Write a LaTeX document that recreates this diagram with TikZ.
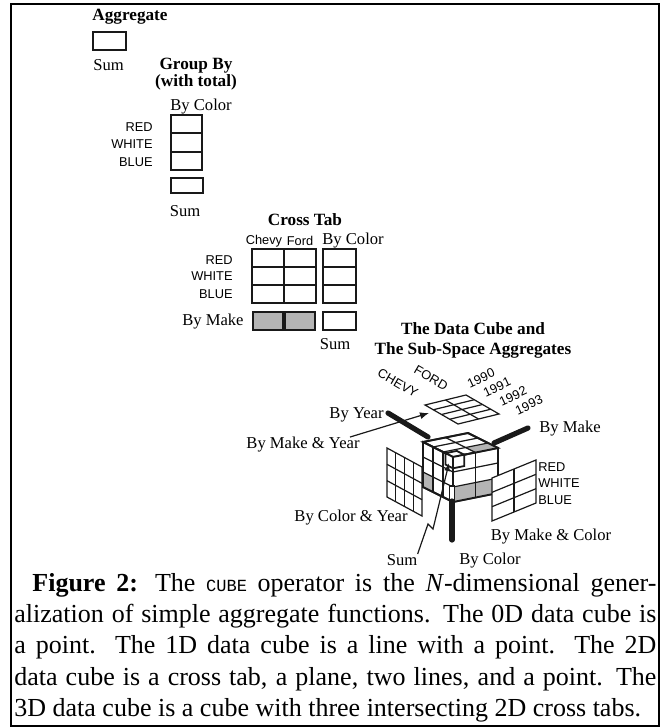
\documentclass[tikz,border=0pt]{standalone}
\usepackage{fontspec}
\setmainfont{Liberation Serif}
\setsansfont{Liberation Sans}
\setmonofont{Liberation Mono}
\usepackage{tikz}
\usetikzlibrary{arrows.meta, positioning, calc}
\definecolor{ink}{RGB}{25,25,25}
\definecolor{stipple}{RGB}{180,180,180}
\newcommand{\cubeop}{{\ttfamily\fontsize{8.5}{8.5}\selectfont CUBE}}

\begin{document}
\begin{tikzpicture}[x=0.5pt, y=-0.5pt,
  title/.style={font=\bfseries\fontsize{8.6}{7.6}\selectfont, inner sep=0pt},
  lbl/.style={font=\fontsize{8.3}{9}\selectfont, inner sep=0pt},
  caps/.style={font=\sffamily\fontsize{6.4}{7}\selectfont, inner sep=0pt},
  cell/.style={draw=ink, line width=0.9pt},
  grid/.style={draw=ink, line width=0.6pt},
  bar/.style={draw=ink, line width=2.6pt, line cap=round}]
  \useasboundingbox (0,0) rectangle (663,728);
  \draw[line width=0.8pt] (11,4) rectangle (659,726);

  % Aggregate
  \node[title] (aggT) at (130,17) {Aggregate};
  \draw[cell] (93,32) rectangle (126,50);
  \node[lbl, anchor=west] (aggSum) at (93,65) {Sum};

  % Group By
  \node[title, align=center] (grpT) at (196,74) {Group By\\(with total)};
  \node[lbl, anchor=west] (grpBy) at (170,107) {By Color};
  \foreach \r in {0,1,2}
    \draw[cell] (171,115+18.3*\r) rectangle ++(31,18.3);
  \foreach \t/\y in {RED/127, WHITE/144, BLUE/162}
    \node[caps, anchor=east] (grp\t) at (153,\y) {\t};
  \draw[cell] (171,178) rectangle (203,193);
  \node[lbl] (grpSum) at (185,211) {Sum};

  % Cross Tab
  \node[title] (xtT) at (305,220) {Cross Tab};
  \node[caps] (xtChevy) at (264,241) {Chevy};
  \node[caps] (xtFord) at (300,241) {Ford};
  \node[lbl, anchor=west] (xtBy) at (322,241) {By Color};
  \foreach \c in {0,1}
    \foreach \r in {0,1,2}
      \draw[cell] (252+32*\c,249+18*\r) rectangle ++(32,18);
  \foreach \r in {0,1,2}
    \draw[cell] (323,249+18*\r) rectangle ++(33,18);
  \foreach \t/\y in {RED/260, WHITE/276, BLUE/294}
    \node[caps, anchor=east] (xt\t) at (233,\y) {\t};
  \foreach \c in {0,1}
    \draw[cell, fill=stipple] (253+32*\c,312) rectangle ++(30,18);
  \node[lbl, anchor=east] (xtMake) at (244,322) {By Make};
  \draw[cell] (323,312) rectangle ++(33,18);
  \node[lbl] (xtSum) at (335,344) {Sum};

  % Data cube
  \node[title, align=center, font=\bfseries\fontsize{8.6}{10}\selectfont] (cubeT) at (473,340)
    {The Data Cube and\\The Sub-Space Aggregates};
  \node[caps, rotate=-30] (axChevy) at (398,383) {CHEVY};
  \node[caps, rotate=-30] (axFord) at (431,378) {FORD};
  \foreach \yr/\x/\y in {1990/481/378, 1991/497/387, 1992/513/396, 1993/529/405}
    \node[caps, rotate=25] (ax\yr) at (\x,\y) {\yr};

  % make & year plane
  \coordinate (pL) at (425,405);
  \coordinate (pT) at (466,395);
  \coordinate (pR) at (499,414);
  \coordinate (pB) at (458,424);
  \draw[grid, fill=white] (pL) -- (pT) -- (pR) -- (pB) -- cycle;
  \foreach \t in {0.25,0.5,0.75}
    \draw[grid] ($(pL)!\t!(pB)$) -- ($(pT)!\t!(pR)$);
  \draw[grid] ($(pL)!0.5!(pT)$) -- ($(pB)!0.5!(pR)$);

  % color & year plane
  \coordinate (lTL) at (387,448);
  \coordinate (lTR) at (422,467);
  \coordinate (lBR) at (422,516);
  \coordinate (lBL) at (387,497);
  \draw[grid, fill=white] (lTL) -- (lTR) -- (lBR) -- (lBL) -- cycle;
  \foreach \t in {0.25,0.5,0.75}
    \draw[grid] ($(lTL)!\t!(lTR)$) -- ($(lBL)!\t!(lBR)$);
  \foreach \t in {0.333,0.667}
    \draw[grid] ($(lTL)!\t!(lBL)$) -- ($(lTR)!\t!(lBR)$);

  % the cube
  \coordinate (cF) at (453,457);
  \coordinate (cL) at (423,442);
  \coordinate (cR) at (498,448);
  \coordinate (cB) at (468,433);
  \coordinate (cFd) at (453,502);
  \coordinate (cLd) at (423,487);
  \coordinate (cRd) at (498,493);
  \draw[cell, fill=white] (cL) -- (cB) -- (cR) -- (cF) -- cycle;
  \draw[cell, fill=white] (cL) -- (cF) -- (cFd) -- (cLd) -- cycle;
  \draw[cell, fill=white] (cF) -- (cR) -- (cRd) -- (cFd) -- cycle;
  \fill[stipple] (465.5,447.5) -- (488,443) -- (cR) -- (475.5,452.5) -- cycle;
  \fill[stipple] (423,472) -- (433,477) -- (433,492) -- (cLd) -- cycle;
  \fill[stipple] (453,487) -- (498,478) -- (cRd) -- (cFd) -- cycle;
  \draw[grid] ($(cL)!0.5!(cB)$) -- ($(cF)!0.5!(cR)$);
  \foreach \t in {0.333,0.667} {
    \draw[grid] ($(cL)!\t!(cF)$) -- ($(cB)!\t!(cR)$);
    \draw[grid] ($(cL)!\t!(cF)$) -- ($(cLd)!\t!(cFd)$);
    \draw[grid] ($(cL)!\t!(cLd)$) -- ($(cF)!\t!(cFd)$);
    \draw[grid] ($(cF)!\t!(cFd)$) -- ($(cR)!\t!(cRd)$);
  }
  \draw[grid] ($(cF)!0.5!(cR)$) -- ($(cFd)!0.5!(cRd)$);
  \draw[cell] (cL) -- (cB) -- (cR) -- (cRd) -- (cFd) -- (cLd) -- cycle;
  \draw[cell] (cL) -- (cF) -- (cR) (cF) -- (cFd);

  % corner cell: the grand total
  \draw[cell, fill=white] (cF) -- ++(-7.5,-3.8) -- ++(11.3,-2.3) -- ++(7.5,3.8) -- cycle;
  \draw[cell, fill=white] (cF) -- ++(-7.5,-3.8) -- ++(0,11.3) -- ++(7.5,3.8) -- cycle;
  \draw[cell, fill=white] (cF) -- ++(11.3,-2.3) -- ++(0,11.3) -- ++(-11.3,2.3) -- cycle;

  % make & color plane
  \coordinate (rTL) at (492,478);
  \coordinate (rTR) at (536,460);
  \coordinate (rBR) at (536,503);
  \coordinate (rBL) at (492,521);
  \draw[grid, fill=white] (rTL) -- (rTR) -- (rBR) -- (rBL) -- cycle;
  \draw[grid] ($(rTL)!0.5!(rTR)$) -- ($(rBL)!0.5!(rBR)$);
  \foreach \t in {0.333,0.667}
    \draw[grid] ($(rTL)!\t!(rBL)$) -- ($(rTR)!\t!(rBR)$);
  \foreach \t/\y in {RED/467, WHITE/483, BLUE/500}
    \node[caps, anchor=west] (cube\t) at (538,\y) {\t};

  % one-dimensional aggregates
  \coordinate (yrA) at (388,413);
  \coordinate (yrB) at (428,437);
  \draw[bar] (yrA) -- (yrB);
  \coordinate (mkA) at (494,443);
  \coordinate (mkB) at (528,428);
  \draw[bar] (mkA) -- (mkB);
  \draw[line width=0.6pt, draw=ink, fill=white] (449.5,486) rectangle (454.5,500);
  \coordinate (clA) at (452,501);
  \coordinate (clB) at (452,540);
  \draw[bar] (clA) -- (clB);

  % labels round the cube
  \node[lbl, anchor=east] (yearLbl) at (384,415) {By Year};
  \node[lbl] (mkyrLbl) at (303,445) {By Make \& Year};
  \node[lbl, anchor=west] (makeLbl) at (539,429) {By Make};
  \node[lbl] (clyrLbl) at (351,518) {By Color \& Year};
  \node[lbl] (mkclLbl) at (551,537) {By Make \& Color};
  \node[lbl] (cubeSum) at (402,560) {Sum};
  \node[lbl] (colorLbl) at (490,561) {By Color};

  \coordinate (plTip) at (429,413);
  \draw[line width=0.6pt, draw=ink, -{Latex[length=4.5pt,width=3.5pt]}]
    ([xshift=-5pt]mkyrLbl.north east) -- (plTip);
  \coordinate (zzA) at (428,524);
  \coordinate (zzB) at (433,529);
  \coordinate (sumTip) at (449,463);
  \draw[line width=0.6pt, draw=ink, -{Latex[length=4pt,width=3pt]}]
    (cubeSum.north east) -- (zzA) -- (zzB) -- (sumTip);

  % caption
  \node[anchor=north west, text width=321pt, inner sep=0pt, align=justify,
        font=\fontsize{13}{15.6}\selectfont] (caption) at (14,573)
    {\parfillskip=0pt\hspace*{9pt}\textbf{Figure 2:} The \cubeop{} operator is the \textit{N}-dimensional gener-\linebreak
     alization of simple aggregate functions. The 0D data cube is\linebreak
     a point. The 1D data cube is a line with a point. The 2D\linebreak
     data cube is a cross tab, a plane, two lines, and a point. The\linebreak
     3D data cube is a cube with three intersecting 2D cross tabs.};
\end{tikzpicture}
\end{document}
